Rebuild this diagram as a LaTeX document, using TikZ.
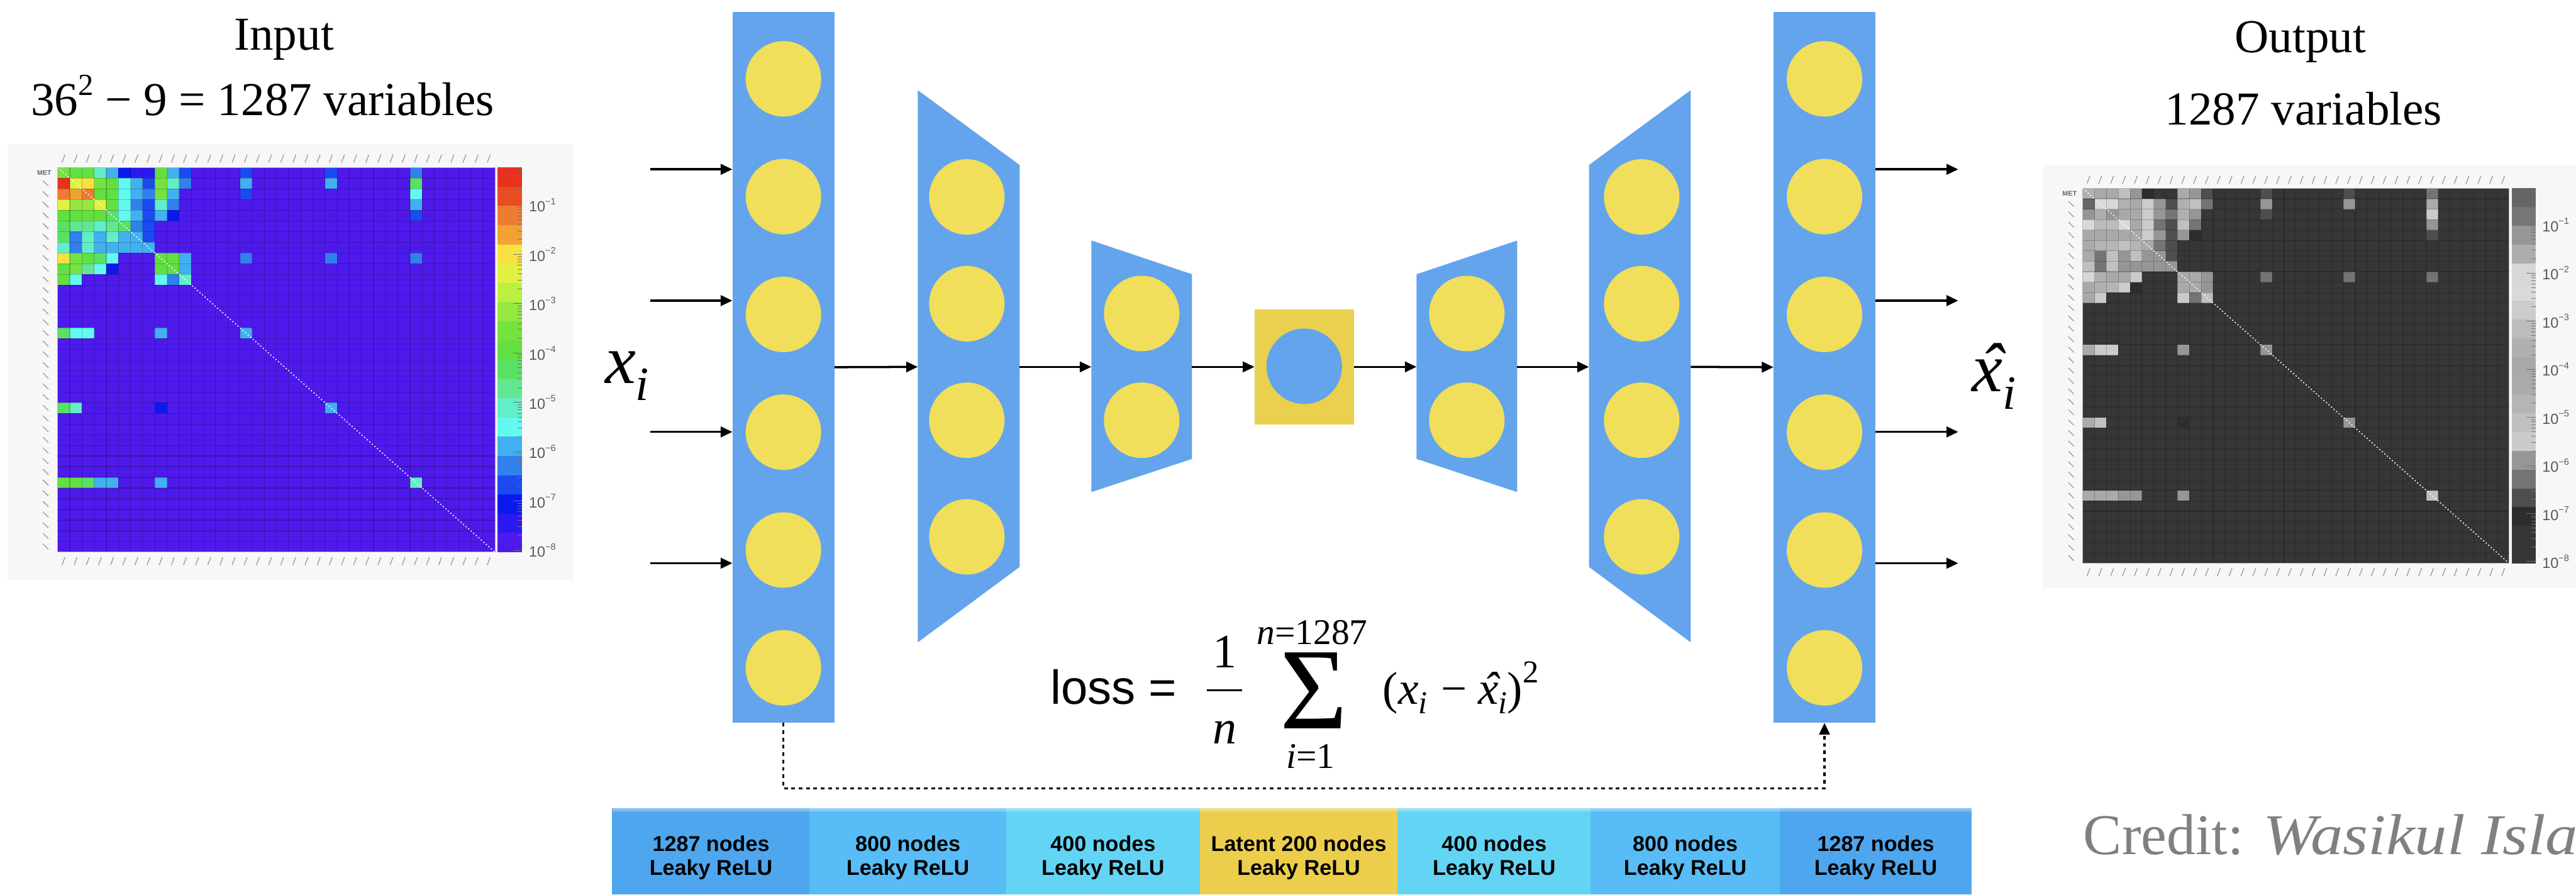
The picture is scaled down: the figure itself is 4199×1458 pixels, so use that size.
\documentclass[tikz,border=0pt]{standalone}
\usepackage{fontspec}
\setmainfont{Liberation Serif}
\newfontfamily\helv{Liberation Sans}
\usetikzlibrary{arrows.meta}

% network colours
\definecolor{layerblue}{RGB}{99,164,236}
\definecolor{nodeyellow}{RGB}{241,222,90}
\definecolor{latentyellow}{RGB}{234,208,78}
\definecolor{barA}{RGB}{78,166,238}
\definecolor{barB}{RGB}{88,188,246}
\definecolor{barC}{RGB}{100,212,244}
\definecolor{barD}{RGB}{236,206,76}
\definecolor{creditgray}{RGB}{128,128,128}

% rainbow palette of the heat map, lowest level first
\definecolor{cb0}{RGB}{78,26,236}
\definecolor{cb1}{RGB}{44,24,240}
\definecolor{cb2}{RGB}{10,26,238}
\definecolor{cb3}{RGB}{26,74,240}
\definecolor{cb4}{RGB}{48,128,238}
\definecolor{cb5}{RGB}{66,176,240}
\definecolor{cb6}{RGB}{98,250,240}
\definecolor{cb7}{RGB}{98,238,200}
\definecolor{cb8}{RGB}{98,230,146}
\definecolor{cb9}{RGB}{90,224,100}
\definecolor{cb10}{RGB}{98,224,66}
\definecolor{cb11}{RGB}{118,226,64}
\definecolor{cb12}{RGB}{148,232,64}
\definecolor{cb13}{RGB}{186,240,64}
\definecolor{cb14}{RGB}{226,240,66}
\definecolor{cb15}{RGB}{248,226,66}
\definecolor{cb16}{RGB}{242,162,50}
\definecolor{cb17}{RGB}{238,124,48}
\definecolor{cb18}{RGB}{232,76,34}
\definecolor{cb19}{RGB}{230,50,30}
% the same palette in grey
\definecolor{gcb0}{gray}{0.21}
\colorlet{gcb1}[gray]{cb1}
\colorlet{gcb2}[gray]{cb2}
\colorlet{gcb3}[gray]{cb3}
\colorlet{gcb4}[gray]{cb4}
\colorlet{gcb5}[gray]{cb5}
\colorlet{gcb6}[gray]{cb6}
\colorlet{gcb7}[gray]{cb7}
\colorlet{gcb8}[gray]{cb8}
\colorlet{gcb9}[gray]{cb9}
\colorlet{gcb10}[gray]{cb10}
\colorlet{gcb11}[gray]{cb11}
\colorlet{gcb12}[gray]{cb12}
\colorlet{gcb13}[gray]{cb13}
\colorlet{gcb14}[gray]{cb14}
\colorlet{gcb15}[gray]{cb15}
\colorlet{gcb16}[gray]{cb16}
\colorlet{gcb17}[gray]{cb17}
\colorlet{gcb18}[gray]{cb18}
\colorlet{gcb19}[gray]{cb19}

% non-empty cells of the 36x36 matrix: column/row/level
\newcommand{\hmcells}{%
0/0/11,1/0/10,2/0/10,3/0/7,4/0/5,5/0/2,6/0/1,7/0/1,8/0/10,9/0/5,10/0/3,15/0/3,22/0/3,29/0/4,%
0/1/19,1/1/14,2/1/15,3/1/11,4/1/10,5/1/6,6/1/5,7/1/3,8/1/11,9/1/7,10/1/4,15/1/5,22/1/5,29/1/9,%
0/2/17,1/2/16,2/2/17,3/2/10,4/2/10,5/2/6,6/2/5,7/2/4,8/2/11,9/2/5,15/2/3,29/2/6,%
0/3/14,1/3/12,2/3/12,3/3/14,4/3/10,5/3/6,6/3/4,7/3/3,8/3/7,9/3/4,29/3/5,%
0/4/10,1/4/10,2/4/10,3/4/10,4/4/9,5/4/6,6/4/5,7/4/3,8/4/5,9/4/2,29/4/3,%
0/5/9,1/5/8,2/5/8,3/5/7,4/5/8,5/5/9,6/5/4,7/5/3,%
0/6/9,1/6/4,2/6/7,3/6/5,4/6/7,5/6/5,6/6/5,7/6/3,%
0/7/7,1/7/4,2/7/7,3/7/5,4/7/5,5/7/5,6/7/5,7/7/5,%
0/8/15,1/8/11,2/8/10,3/8/9,4/8/6,8/8/10,9/8/10,10/8/5,15/8/4,22/8/4,29/8/4,%
0/9/10,1/9/11,2/9/8,3/9/6,4/9/2,8/9/10,9/9/10,10/9/5,%
0/10/10,1/10/6,8/10/6,9/10/4,10/10/7,%
0/15/9,1/15/6,2/15/6,8/15/5,15/15/5,%
0/22/9,1/22/7,8/22/2,22/22/5,%
0/29/10,1/29/10,2/29/9,3/29/5,4/29/5,8/29/5,29/29/7}

% heat map with colour bar; #1 colour prefix, #2 name prefix
\newcommand{\hmap}[2]{%
  \fill[fill=#1cb0] (0,0) rectangle (713,627);
  \foreach \hmx/\hmy/\hml in \hmcells {
    \fill[fill=#1cb\hml] ({\hmx*19.806},{\hmy*17.417}) rectangle ++(19.806,17.417);
  }
  \foreach \k in {1,...,35} {
    \draw[hmgrid] ({\k*19.806},0) -- ++(0,627);
    \draw[hmgrid] (0,{\k*17.417}) -- ++(713,0);
  }
  \draw[hmdiag] (0,0) -- (713,627);
  \draw[hmframe] (0,0) rectangle (713,627);
  % axis labels
  \foreach \k in {0,...,35} {
    \draw[axmark] ({\k*19.806+7},-8) -- ++(5,-13);
    \draw[axmark] ({\k*19.806+7},648) -- ++(5,-13);
  }
  \foreach \k in {1,...,35} {
    \draw[axmark] (-24,{\k*17.417+4}) -- ++(9,9);
  }
  \node[metlab, anchor=east] (#2met) at (-10,9) {MET};
  % colour bar
  \foreach \l in {0,...,19} {
    \fill[fill=#1cb\l] (717,{627-\l*31.35}) rectangle (757,{627-(\l+1)*31.35});
  }
  \foreach \d in {0,...,7} {
    \draw[cbtick] (757,{624-\d*80.4}) -- ++(-15,0);
  }
  \foreach \d in {0,...,6} {
    \foreach \m in {2,...,9} {
      \draw[cbtick] (757,{624-(\d+log10(\m))*80.4}) -- ++(-7,0);
    }
  }
  \foreach \m in {2,...,5} {
    \draw[cbtick] (757,{624-(7+log10(\m))*80.4}) -- ++(-7,0);
  }
  \foreach \k in {1,...,8} {
    \node[cblab, anchor=west] (#2lab\k) at (768,{624-(8-\k)*80.4})
      {10\raisebox{0.5em}{\fontsize{15}{15}\selectfont −\k}};
  }
}

% small pieces of the loss formula
\newcommand{\lsub}[1]{\raisebox{-0.2em}{\fontsize{52}{52}\selectfont\textit{#1}}}
\newcommand{\lsup}[1]{\raisebox{0.47em}{\fontsize{52}{52}\selectfont #1}}
\newcommand{\hatx}{{\itshape\rlap{\hspace{0.12em}\symbol{"02C6}}x}}

\begin{document}
\begin{tikzpicture}[x=1pt, y=-1pt,
  canvas/.style={fill=black!3},
  hmgrid/.style={line width=1.1pt, black, opacity=0.22},
  hmdiag/.style={white, line width=1.6pt, dash pattern=on 2pt off 3.5pt},
  hmframe/.style={line width=1pt, black!30},
  axmark/.style={line width=1.3pt, black!40},
  metlab/.style={font=\helv\bfseries\fontsize{11}{11}\selectfont, text=black!60, inner sep=0},
  cbtick/.style={line width=1pt, black!55},
  cblab/.style={font=\helv\fontsize{24}{24}\selectfont, text=black!65, inner sep=0},
  title/.style={font=\fontsize{77}{77}\selectfont, inner sep=0},
  layer/.style={fill=layerblue, draw=none, inner sep=0},
  unit/.style={circle, fill=nodeyellow, minimum size=123pt, inner sep=0},
  arr/.style={line width=3.6pt, -{Triangle[length=19pt,width=17pt]}},
  lossline/.style={line width=3.6pt, dash pattern=on 6pt off 6pt, -{Triangle[length=19pt,width=17pt]}},
  barcell/.style={draw=none, inner sep=0, minimum height=141pt},
  bartext/.style={font=\helv\bfseries\fontsize{35}{39}\selectfont, align=center, inner sep=0}]

\useasboundingbox (0,0) rectangle (4199,1458);
\clip (0,0) rectangle (4199,1458);
\fill[white] (0,0) rectangle (4199,1458);

% ---------- input and output correlation maps ----------
\fill[canvas] (12,236) rectangle (935,945);
\fill[canvas] (3330,270) rectangle (4199,958);
\begin{scope}[shift={(94,273)}]
  \hmap{}{L}
\end{scope}
\begin{scope}[shift={(3395,307)}, scale=0.975]
  \hmap{g}{R}
\end{scope}

\node[title, anchor=base] (intitle) at (463,82) {Input};
\node[title, anchor=base] (invars) at (428,188)
  {36\raisebox{0.42em}{\fontsize{50}{50}\selectfont 2} − 9 = 1287 variables};
\node[title, anchor=base] (outtitle) at (3750,86) {Output};
\node[title, anchor=base] (outvars) at (3755,204) {1287 variables};

% ---------- autoencoder ----------
\node[layer, minimum width=166pt, minimum height=1159pt] (colin) at (1277,598.5) {};
\node[layer, minimum width=166pt, minimum height=1159pt] (colout) at (2974,598.5) {};
\fill[layerblue] (1496,147) -- (1662,269) -- (1662,924) -- (1496,1047) -- cycle;
\fill[layerblue] (1779,392) -- (1943,447) -- (1943,748) -- (1779,802) -- cycle;
\fill[layerblue] (2309,447) -- (2473,392) -- (2473,802) -- (2309,748) -- cycle;
\fill[layerblue] (2590,269) -- (2756,147) -- (2756,1047) -- (2590,924) -- cycle;
\node[fill=latentyellow, inner sep=0, minimum width=162pt, minimum height=187pt] (latent) at (2126,598) {};
\node[circle, fill=layerblue, minimum size=123pt, inner sep=0] (latentunit) at (2126,597) {};

\foreach \k in {0,...,5} {
  \node[unit] (in\k) at (1277,{128.5+192*\k}) {};
  \node[unit] (out\k) at (2974,{128.5+192*\k}) {};
}
\foreach \k/\yy in {0/321,1/495,2/685,3/875} {
  \node[unit] (enc\k) at (1576,\yy) {};
  \node[unit] (dec\k) at (2676,\yy) {};
}
\foreach \k/\yy in {0/511,1/685} {
  \node[unit] (encb\k) at (1861,\yy) {};
  \node[unit] (decb\k) at (2391,\yy) {};
}

% layer edges used by the connectors
\coordinate (enc1w) at (1496,598);
\coordinate (enc1e) at (1662,598);
\coordinate (enc2w) at (1779,598);
\coordinate (enc2e) at (1943,598);
\coordinate (dec2w) at (2309,598);
\coordinate (dec2e) at (2473,598);
\coordinate (dec1w) at (2590,598);
\coordinate (dec1e) at (2756,598);

\draw[arr] (colin.east) -- (enc1w);
\draw[arr] (enc1e) -- (enc2w);
\draw[arr] (enc2e) -- (latent.west);
\draw[arr] (latent.east) -- (dec2w);
\draw[arr] (dec2e) -- (dec1w);
\draw[arr] (dec1e) -- (colout.west);

\foreach \k/\yy in {1/276,2/490,3/704,4/918} {
  \coordinate (src\k) at (1060,\yy);
  \coordinate (dst\k) at (3192,\yy);
  \draw[arr] (src\k) -- (src\k -| colin.west);
  \draw[arr] (src\k -| colout.east) -- (dst\k);
}

\draw[lossline] (colin.south) -- ++(0,107) -| (colout.south);

\node[anchor=base west, inner sep=0, font=\fontsize{113}{113}\selectfont] (xin) at (986,625)
  {\textit{x}\raisebox{-28pt}{\fontsize{78}{78}\selectfont\textit{i}}};
\node[anchor=base west, inner sep=0, font=\fontsize{113}{113}\selectfont] (xout) at (3214,638)
  {\hatx\raisebox{-29pt}{\fontsize{78}{78}\selectfont\textit{i}}};

% ---------- loss ----------
\node[anchor=base west, inner sep=0, font=\helv\fontsize{78}{78}\selectfont] (losslab) at (1712,1148) {loss =};
\node[anchor=base, inner sep=0, font=\fontsize{78}{78}\selectfont] (fracnum) at (1996,1088) {1};
\draw[line width=3.5pt] (1967,1125) -- (2025,1125);
\node[anchor=base, inner sep=0, font=\fontsize{78}{78}\selectfont\itshape] (fracden) at (1996,1212) {n};
\node[anchor=base, inner sep=0] (sumsign) at (2142,1188)
  {\fontsize{189}{189}\selectfont Σ};
\node[anchor=base, inner sep=0, font=\fontsize{59}{59}\selectfont] (sumtop) at (2139,1050) {\textit{n}=1287};
\node[anchor=base, inner sep=0, font=\fontsize{59}{59}\selectfont] (sumbot) at (2136,1252) {\textit{i}=1};
\node[anchor=base west, inner sep=0, font=\fontsize{75}{75}\selectfont] (lossterm) at (2254,1148)
  {(\textit{x}\lsub{i}\hspace{22pt}−\hspace{18pt}\hatx\lsub{i})\lsup{2}};

% ---------- layer legend ----------
\foreach \k/\xa/\xb/\col/\txt in {
  1/998/1320/barA/{1287 nodes\\Leaky ReLU},
  2/1320/1640/barB/{800 nodes\\Leaky ReLU},
  3/1640/1956/barC/{400 nodes\\Leaky ReLU},
  4/1956/2278/barD/{Latent 200 nodes\\Leaky ReLU},
  5/2278/2593/barC/{400 nodes\\Leaky ReLU},
  6/2593/2901/barB/{800 nodes\\Leaky ReLU},
  7/2901/3214/barA/{1287 nodes\\Leaky ReLU}} {
  \node[barcell, fill=\col, minimum width={\xb-\xa+0.6}] (bar\k) at ({(\xa+\xb)/2},1387.5) {};
  \node[bartext] (bartxt\k) at ({(\xa+\xb)/2},1398) {\txt};
}
\fill[white, opacity=0.3] (998,1317) rectangle (3214,1322);

% ---------- credit ----------
\node[anchor=base west, inner sep=0, font=\fontsize{94}{94}\selectfont, text=creditgray] (credit) at (3396,1393)
  {Credit: \scalebox{1.12}[1]{\itshape Wasikul Islam}};
\end{tikzpicture}
\end{document}
